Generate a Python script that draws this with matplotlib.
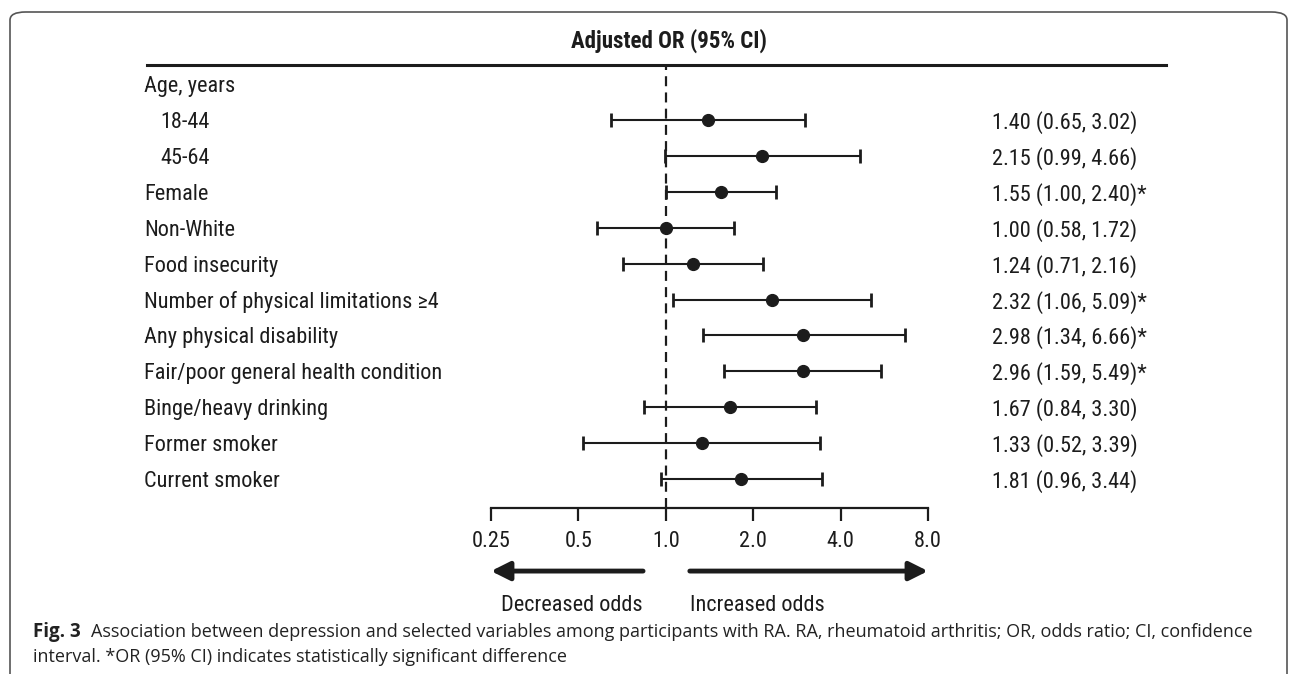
import numpy as np
import matplotlib
matplotlib.use("Agg")
import matplotlib.pyplot as plt
import matplotlib.transforms as mtransforms
from matplotlib.lines import Line2D
from matplotlib.patches import FancyBboxPatch

labels = ["Age, years", "18-44", "45-64", "Female", "Non-White", "Food insecurity",
          "Number of physical limitations \u22654", "Any physical disability",
          "Fair/poor general health condition", "Binge/heavy drinking",
          "Former smoker", "Current smoker"]
indent = [False, True, True, False, False, False, False, False, False, False, False, False]
odds = [None, 1.40, 2.15, 1.55, 1.00, 1.24, 2.32, 2.98, 2.96, 1.67, 1.33, 1.81]
lower = [None, 0.65, 0.99, 1.00, 0.58, 0.71, 1.06, 1.34, 1.59, 0.84, 0.52, 0.96]
upper = [None, 3.02, 4.66, 2.40, 1.72, 2.16, 5.09, 6.66, 5.49, 3.30, 3.39, 3.44]
signif = [False, False, False, True, False, False, True, True, True, False, False, False]
xticks = [0.25, 0.5, 1.0, 2.0, 4.0, 8.0]
xticklabels = ["0.25", "0.5", "1.0", "2.0", "4.0", "8.0"]

plt.rcParams["font.family"] = ["Roboto Condensed", "DejaVu Sans"]
ink = "#1c1c1c"
fs = 16

W, H = 1295, 674
fig = plt.figure(figsize=(W / 100, H / 100), dpi=100)

# forest plot axes, log2 scale from 0.25 to 8
ax = fig.add_axes([491 / W, 1 - 508 / H, (928 - 491) / W, (508 - 67) / H])
ax.set_xscale("log", base=2)
ax.set_xlim(0.25, 8)
ax.set_ylim(11.81, -0.48)

rows = np.arange(len(labels))
for i in rows:
    if odds[i] is None:
        continue
    ax.errorbar(odds[i], i, xerr=[[odds[i] - lower[i]], [upper[i] - odds[i]]],
                fmt="o", color=ink, ms=8.5, lw=1.5, capsize=5, capthick=2)

# null line
ax.axvline(1.0, color=ink, lw=1.6, ls=(0, (4.5, 2.8)), zorder=0)

for s in ["top", "right", "left"]:
    ax.spines[s].set_visible(False)
ax.spines["bottom"].set_linewidth(1.6)
ax.spines["bottom"].set_color(ink)
ax.set_yticks([])
ax.set_xticks(xticks)
ax.set_xticklabels(xticklabels, fontsize=fs, color=ink)
ax.xaxis.set_minor_locator(matplotlib.ticker.NullLocator())
ax.tick_params(axis="x", direction="out", length=9.5, width=1.6, pad=7, color=ink)

# row labels and OR text
lab_tr = mtransforms.blended_transform_factory(fig.transFigure, ax.transData)
for i in rows:
    x0 = (160 if indent[i] else 144) / W
    ax.text(x0, i, labels[i], transform=lab_tr, ha="left", va="center_baseline", fontsize=fs, color=ink)
    if odds[i] is not None:
        txt = f"{odds[i]:.2f} ({lower[i]:.2f}, {upper[i]:.2f})" + ("*" if signif[i] else "")
        ax.text(992 / W, i, txt, transform=lab_tr, ha="left", va="center_baseline", fontsize=fs, color=ink)

# direction arrows
arr_tr = ("data", "axes fraction")
arrow = dict(arrowstyle="-|>", lw=3.5, color=ink, mutation_scale=28, shrinkA=0, shrinkB=0)
ax.annotate("", xy=(0.25, -0.143), xytext=(0.835, -0.143), xycoords=arr_tr, textcoords=arr_tr, arrowprops=arrow)
ax.annotate("", xy=(8, -0.143), xytext=(1.21, -0.143), xycoords=arr_tr, textcoords=arr_tr, arrowprops=arrow)
txt_tr = mtransforms.blended_transform_factory(ax.transData, ax.transAxes)
ax.text(0.835, -0.215, "Decreased odds", transform=txt_tr, ha="right", va="center_baseline", fontsize=fs, color=ink)
ax.text(1.21, -0.215, "Increased odds", transform=txt_tr, ha="left", va="center_baseline", fontsize=fs, color=ink)

# header
fig.text(669 / W, 1 - 38 / H, "Adjusted OR (95% CI)", ha="center", va="center_baseline",
         fontsize=16.5, fontweight="bold", color=ink)
fig.add_artist(Line2D([147 / W, 1166 / W], [1 - 65 / H, 1 - 65 / H], color=ink, lw=2.2,
                      transform=fig.transFigure))

# border box (open at the bottom)
fig.add_artist(FancyBboxPatch((10 / W, -0.2), (1287 - 10) / W, 1.2 - 12 / H,
                              boxstyle="round,pad=0,rounding_size=0.012",
                              transform=fig.transFigure, fill=False, ec="#555555", lw=1.2))

# caption
cap_font = ["Open Sans", "DejaVu Sans"]
cap_col = "#222222"
fig.text(33 / W, 1 - 630 / H, "Fig. 3", fontsize=13.5, fontweight="bold", family=cap_font,
         ha="left", va="center_baseline", color=cap_col)
fig.text(91 / W, 1 - 630 / H,
         "Association between depression and selected variables among participants with RA. "
         "RA, rheumatoid arthritis; OR, odds ratio; CI, confidence",
         fontsize=13, family=cap_font, ha="left", va="center_baseline", color=cap_col)
fig.text(33 / W, 1 - 655 / H, "interval. *OR (95% CI) indicates statistically significant difference",
         fontsize=13, family=cap_font, ha="left", va="center_baseline", color=cap_col)

fig.savefig("out.png", dpi=100)
